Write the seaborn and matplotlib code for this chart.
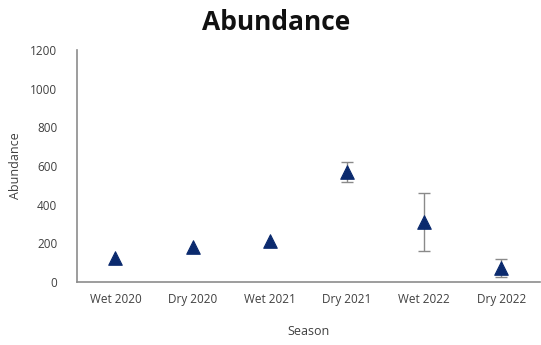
import matplotlib
matplotlib.use("Agg")
import matplotlib.pyplot as plt
import seaborn as sns
import pandas as pd

seasons = ["Wet 2020", "Dry 2020", "Wet 2021", "Dry 2021", "Wet 2022", "Dry 2022"]
abundance = [122, 178, 213, 568, 312, 72]
error = [0, 0, 0, 50, 150, 45]

df = pd.DataFrame({"Season": seasons, "Abundance": abundance, "err": error})
df["pos"] = range(len(seasons))

sns.set_style("white")
plt.rcParams["font.family"] = ["Open Sans", "DejaVu Sans"]

fig = plt.figure(figsize=(5.41, 3.45), dpi=100)
ax = fig.add_axes([0.142, 0.183, 0.856, 0.672])

# only draw error bars where there is spread
eb = df[df["err"] > 0]
ax.errorbar(eb["pos"], eb["Abundance"], yerr=eb["err"], fmt="none",
            ecolor="#8a8a8a", elinewidth=1.0, capsize=4, capthick=1.0, zorder=1)
sns.scatterplot(data=df, x="Season", y="Abundance", marker="^", s=95,
                color="#0b2a6e", edgecolor="#0b2a6e", ax=ax, zorder=2)

ax.set_xlim(-0.5, 5.5)
ax.set_ylim(0, 1200)
ax.set_yticks(range(0, 1201, 200))
ax.tick_params(axis="both", length=0, labelsize=8.5, colors="#404040", pad=8)
ax.tick_params(axis="y", pad=14)
for side in ["top", "right"]:
    ax.spines[side].set_visible(False)
for side in ["left", "bottom"]:
    ax.spines[side].set_color("#8c8c8c")
    ax.spines[side].set_linewidth(1.2)

ax.set_xlabel("Season", fontsize=9, color="#404040", labelpad=14)
ax.set_ylabel("Abundance", fontsize=9, color="#404040", labelpad=6)
fig.suptitle("Abundance", fontsize=19, fontweight="bold", x=0.51, y=0.975, color="#111111")

fig.savefig("out.png", dpi=100)
